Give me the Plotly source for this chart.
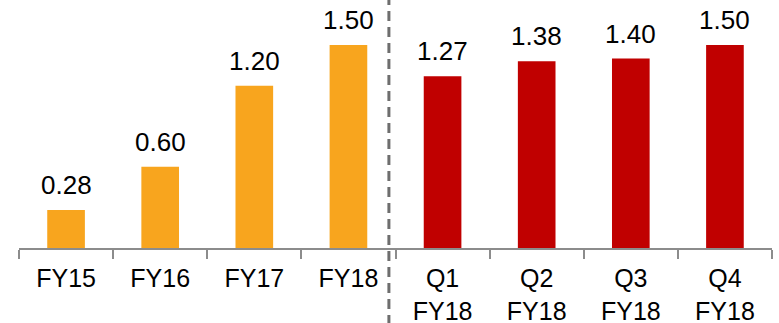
import plotly.graph_objects as go

# Dividend per share: annual totals, then the FY18 quarters
categories = ["FY15", "FY16", "FY17", "FY18", "Q1<br>FY18", "Q2<br>FY18", "Q3<br>FY18", "Q4<br>FY18"]
values = [0.28, 0.60, 1.20, 1.50, 1.27, 1.38, 1.40, 1.50]
value_labels = ["0.28", "0.60", "1.20", "1.50", "1.27", "1.38", "1.40", "1.50"]

ANNUAL_COLOR = "#F8A51E"
QUARTER_COLOR = "#C00000"
bar_colors = [ANNUAL_COLOR if not c.startswith("Q") else QUARTER_COLOR for c in categories]

FONT = "Liberation Sans, Arial, sans-serif"
AXIS_GREY = "#8C8C8C"

fig = go.Figure(
    go.Bar(
        x=categories,
        y=values,
        marker=dict(color=bar_colors, line=dict(width=0)),
        hoverinfo="skip",
    )
)

# Value labels above each bar
for cat, val, lab in zip(categories, values, value_labels):
    fig.add_annotation(
        x=cat, y=val, text=lab, showarrow=False,
        xref="x", yref="y", yanchor="bottom", yshift=8,
        font=dict(family=FONT, size=26, color="#000000"),
    )

# Dashed separator between annual and quarterly bars
fig.add_shape(
    type="line", xref="x", yref="paper",
    x0=3.43, x1=3.43, y0=-0.31, y1=1.0,
    line=dict(color="#6E6E6E", width=3, dash="10px,6px"),
    layer="above",
)

fig.update_layout(
    width=779, height=323,
    margin=dict(l=19, r=7, t=0, b=75, autoexpand=False),
    paper_bgcolor="white", plot_bgcolor="white",
    bargap=0.6,
    showlegend=False,
    font=dict(family=FONT, size=25, color="#000000"),
)
fig.update_xaxes(
    type="category",
    range=[-0.5, len(categories) - 0.5],
    automargin=False,
    showline=True, linecolor=AXIS_GREY, linewidth=2,
    ticks="outside", tickson="boundaries", ticklen=9, tickwidth=2, tickcolor=AXIS_GREY,
    ticklabelstandoff=7,
    showgrid=False, zeroline=False,
    tickfont=dict(family=FONT, size=25, color="#000000"),
)
fig.update_yaxes(
    range=[0, 1.833],
    visible=False, showgrid=False, zeroline=False,
)

fig.write_html("out.html")
